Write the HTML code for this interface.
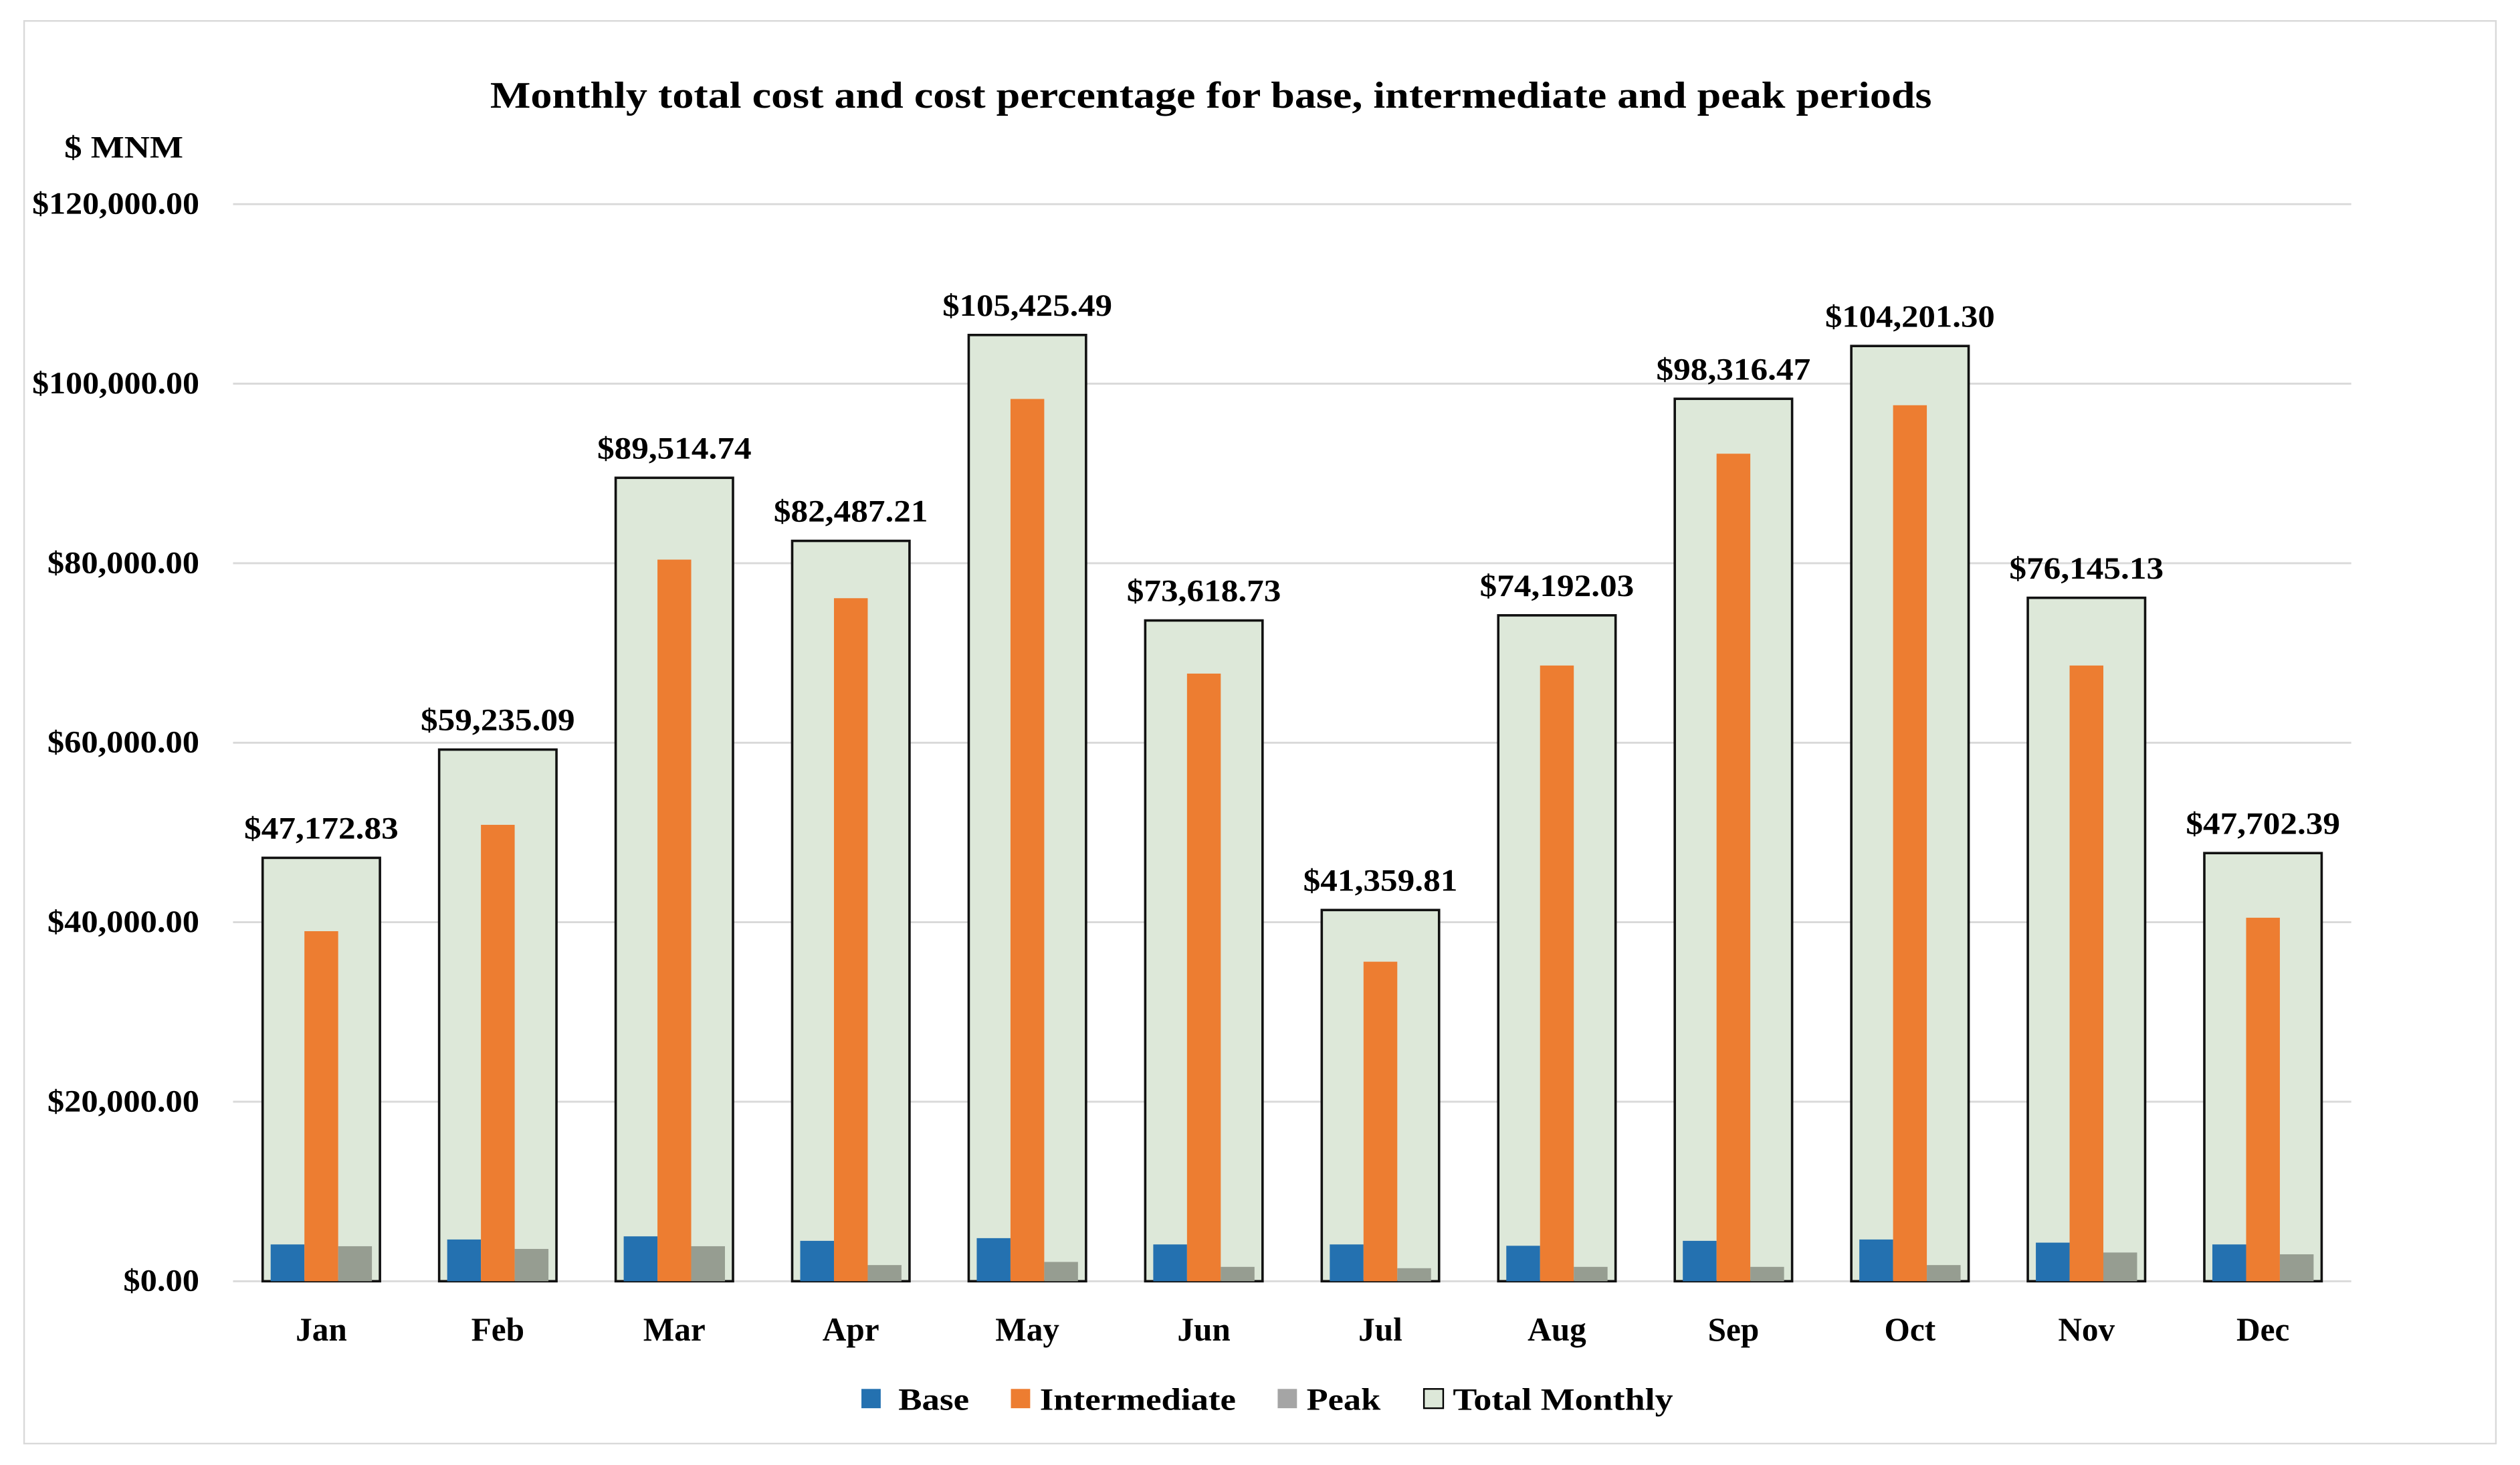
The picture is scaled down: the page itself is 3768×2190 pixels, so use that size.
<!DOCTYPE html>
<html><head><meta charset="utf-8"><style>
html,body{margin:0;padding:0;background:#fff;}
svg{display:block;font-family:"Liberation Serif",serif;}
</style></head><body>
<svg id="chart" width="3768" height="2190" viewBox="0 0 1568 911.3" xmlns="http://www.w3.org/2000/svg">
<rect x="15" y="13" width="1538" height="885" fill="#fff" stroke="#d9d9d9" stroke-width="1"/>
<text x="305" y="67" font-size="23.5" font-weight="bold" textLength="897" lengthAdjust="spacingAndGlyphs">Monthly  total cost and cost percentage for base, intermediate and peak periods</text>
<text x="40" y="98" font-size="19.5" font-weight="bold" textLength="74" lengthAdjust="spacingAndGlyphs">$ MNM</text>
<g id="grid"></g><g id="bars"></g><g id="labels"></g>
<g>
<rect x="536" y="864" width="12" height="12" fill="#2471b0"/>
<text x="559" y="877" font-size="19.5" font-weight="bold" textLength="44" lengthAdjust="spacingAndGlyphs">Base</text>
<rect x="629" y="864" width="12" height="12" fill="#ed7d31"/>
<text x="647" y="877" font-size="19.5" font-weight="bold" textLength="122" lengthAdjust="spacingAndGlyphs">Intermediate</text>
<rect x="795" y="864" width="12" height="12" fill="#a5a5a5"/>
<text x="813" y="877" font-size="19.5" font-weight="bold" textLength="46" lengthAdjust="spacingAndGlyphs">Peak</text>
<rect x="886" y="864" width="12" height="12" fill="#dde8d9" stroke="#000" stroke-width="1"/>
<text x="904" y="877" font-size="19.5" font-weight="bold" textLength="137" lengthAdjust="spacingAndGlyphs">Total Monthly</text>
</g>
</svg>
<script>
const months=["Jan","Feb","Mar","Apr","May","Jun","Jul","Aug","Sep","Oct","Nov","Dec"];
const totalMonthly=[47172.83,59235.09,89514.74,82487.21,105425.49,73618.73,41359.81,74192.03,98316.47,104201.30,76145.13,47702.39];
const intermediate=[39000,50850,80400,76100,98300,67700,35600,68600,92200,97600,68600,40500];
const base=[4100,4650,5000,4500,4800,4100,4100,3950,4500,4650,4300,4100];
const peak=[3900,3600,3900,1800,2150,1600,1450,1600,1600,1800,3200,3000];
const yTicks=[0,20000,40000,60000,80000,100000,120000];
const yTickLabels=["$0.00","$20,000.00","$40,000.00","$60,000.00","$80,000.00","$100,000.00","$120,000.00"];

const NS="http://www.w3.org/2000/svg";
const X0=145,X1=1463,Y0=797,YT=127,VMAX=120000;
const bw=(X1-X0)/months.length;
function y(v){return Y0-(v/VMAX)*(Y0-YT);}
function xc(i){return X0+bw*(i+0.5);}
function mk(tag,attrs,parent){const e=document.createElementNS(NS,tag);for(const k in attrs)e.setAttribute(k,attrs[k]);parent.appendChild(e);return e;}
const grid=document.getElementById('grid'),bars=document.getElementById('bars'),labels=document.getElementById('labels');
yTicks.forEach((t,i)=>{
  const l=mk('line',{x1:X0,x2:X1,y1:y(t),y2:y(t),stroke:'#d9d9d9','stroke-width':1.2},grid);
  
  
  const txt=yTickLabels[i];
  const tx=mk('text',{x:124,y:y(t)+6,'text-anchor':'end','font-size':19.5,'font-weight':'bold',textLength:txt.length*9.45,lengthAdjust:'spacingAndGlyphs'},grid);
  
  
  tx.textContent=txt;
});
months.forEach((m,i)=>{
  const c=xc(i),tw=73,sw=21;
  const tr=mk('rect',{x:c-tw/2,y:y(totalMonthly[i]),width:tw,height:Y0-y(totalMonthly[i]),fill:'#dde8d9',stroke:'#111','stroke-width':1.5},bars);
  
  
  const b=mk('rect',{x:c-31.5,y:y(base[i]),width:sw,height:Y0-y(base[i]),fill:'#2471b0'},bars);
  
  
  const o=mk('rect',{x:c-10.5,y:y(intermediate[i]),width:sw,height:Y0-y(intermediate[i]),fill:'#ed7d31'},bars);
  
  
  const p=mk('rect',{x:c+10.5,y:y(peak[i]),width:sw,height:Y0-y(peak[i]),fill:'#969d91'},bars);
  
  
  const s='$'+totalMonthly[i].toLocaleString('en-US',{minimumFractionDigits:2,maximumFractionDigits:2});
  const vl=mk('text',{x:c,y:y(totalMonthly[i])-12,'text-anchor':'middle','font-size':19.5,'font-weight':'bold',textLength:s.length*9.6,lengthAdjust:'spacingAndGlyphs'},labels);
  
  
  vl.textContent=s;
  const ml=mk('text',{x:c,y:834,'text-anchor':'middle','font-size':20.5,'font-weight':'bold'},labels);
  
  
  ml.textContent=m;
});
</script>
</body></html>
